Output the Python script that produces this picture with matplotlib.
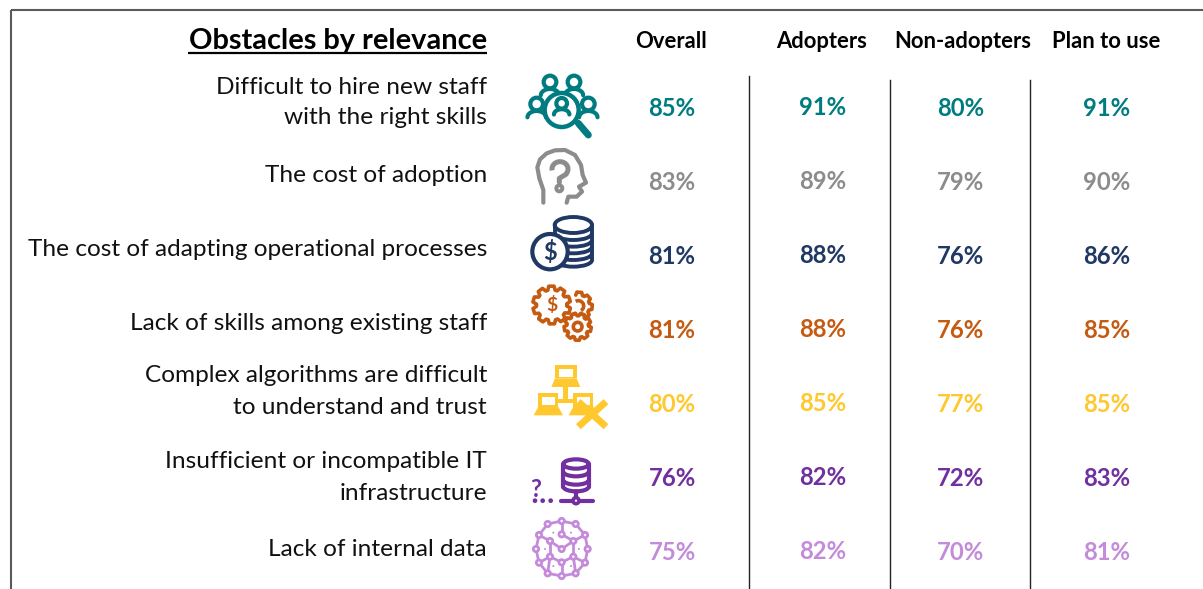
import numpy as np
import matplotlib
matplotlib.use("Agg")
import matplotlib.pyplot as plt
from matplotlib.patches import Circle, Ellipse, Polygon, Rectangle, Arc
from matplotlib.transforms import Affine2D

plt.rcParams['font.family'] = ['Lato', 'DejaVu Sans']

# data
title = "Obstacles by relevance"
columns = ["Overall", "Adopters", "Non-adopters", "Plan to use"]
labels = [
    ["Difficult to hire new staff", "with the right skills"],
    ["The cost of adoption"],
    ["The cost of adapting operational processes"],
    ["Lack of skills among existing staff"],
    ["Complex algorithms are difficult", "to understand and trust"],
    ["Insufficient or incompatible IT", "infrastructure"],
    ["Lack of internal data"],
]
overall = [85, 83, 81, 81, 80, 76, 75]
adopters = [91, 89, 88, 88, 85, 82, 82]
non_adopters = [80, 79, 76, 76, 77, 72, 70]
plan_to_use = [91, 90, 86, 85, 85, 83, 81]

colors = ["#007C80", "#8C8C8C", "#1F3864", "#C55A11", "#FFC82E", "#7030A0", "#C58BDB"]

# layout (pixels of the picture)
col_x = [672, 823, 961, 1107]
head_x = [671, 822, 963, 1106]
head_y = [41, 42, 41, 41]
row_y = [108.5, 182.5, 256.5, 330.5, 404.5, 478.5, 552.5]
col_dy = [0, -0.7, 0, 0]
label_y = [[87, 118], [175], [250], [323], [376, 407], [462, 493], [549]]

fig = plt.figure(figsize=(12.03, 5.89), dpi=100)
ax = fig.add_axes([0, 0, 1, 1])
ax.set_xlim(0, 1203)
ax.set_ylim(589, 0)
ax.axis("off")

# frame and separators
ax.plot([11, 11], [589, 10], color="#5A5A5A", lw=1.5, solid_capstyle="butt")
ax.plot([10.5, 1203], [10, 10], color="#5A5A5A", lw=1.5, solid_capstyle="butt")
ax.plot([749, 749], [76, 589], color="#222222", lw=1.0)
ax.plot([890, 890], [80, 589], color="#222222", lw=1.0)
ax.plot([1030, 1030], [80, 589], color="#222222", lw=1.0)

# titles
ax.text(487, 41.5, title, ha="right", va="center", fontsize=20.9, fontweight="bold", color="black")
ax.plot([188, 487], [53, 53], color="black", lw=1.6, solid_capstyle="butt")
for x, y, c in zip(head_x, head_y, columns):
    ax.text(x, y, c, ha="center", va="center", fontsize=15.8, fontweight="bold", color="black")

# row labels
for lines, ys in zip(labels, label_y):
    for line, y in zip(lines, ys):
        ax.text(487, y, line, ha="right", va="center", fontsize=17.6, color="#111111")

# values
for j, vals in enumerate([overall, adopters, non_adopters, plan_to_use]):
    for i, v in enumerate(vals):
        ax.text(col_x[j], row_y[i] + col_dy[j], f"{v}%", ha="center", va="center",
                fontsize=17.2, fontweight="bold", color=colors[i])


# icons are drawn in coordinates of a 3x crop, so everything gets scaled down
def zoomed(oy):
    return Affine2D().scale(1 / 3).translate(510, oy) + ax.transData


def ring(tr, cx, cy, r, col, lw=2.2, fill="white", z=3):
    ax.add_patch(Circle((cx, cy), r, fc=fill, ec=col, lw=lw, transform=tr, zorder=z))


def stroke(tr, xs, ys, col, lw=2.2, z=3, cap="round"):
    ax.plot(xs, ys, color=col, lw=lw, transform=tr, zorder=z, solid_capstyle=cap, solid_joinstyle="round")


def person(tr, cx, cy, r, col, z=3):
    ring(tr, cx, cy, r, col, 3.0, "white", z)
    t = np.linspace(np.pi, 2 * np.pi, 20)
    xs = cx + 1.45 * r * np.cos(t)
    ys = cy + 2.1 * r + 1.0 * r * np.sin(t)
    stroke(tr, xs, ys, col, 3.0, z)


def gear(tr, cx, cy, r, teeth, col, lw=2.0, a0=0.0, a1=2 * np.pi):
    pts = []
    step = 2 * np.pi / teeth
    for k in range(teeth):
        a = a0 + k * step
        if a > a1:
            break
        for da, rr in [(-0.30, 0.80), (-0.17, 1.0), (0.17, 1.0), (0.30, 0.80)]:
            pts.append((cx + r * rr * np.cos(a + da * step * 1.3), cy + r * rr * np.sin(a + da * step * 1.3)))
    xs, ys = zip(*pts)
    if a1 >= 2 * np.pi:
        xs = list(xs) + [xs[0]]
        ys = list(ys) + [ys[0]]
    stroke(tr, xs, ys, col, lw)


# people + magnifier
tr = zoomed(60)
c = colors[0]
for cx, cy, r in [(120, 66, 19), (192, 66, 19), (80, 132, 19), (235, 132, 19)]:
    person(tr, cx, cy, r, c)
ring(tr, 155, 150, 51, c, 3.2, "white", 4)
person(tr, 155, 130, 16, c, 5)
stroke(tr, [205, 235], [190, 225], c, 5.0, 4)

# head with question mark
tr = zoomed(60)
c = colors[1]
stroke(tr, [100, 100, 88, 82, 90, 110, 135, 165, 195, 213, 218, 228, 207, 216, 200, 175, 170],
       [428, 390, 355, 322, 298, 280, 271, 270, 285, 315, 345, 368, 380, 395, 410, 410, 428], c, 3.0)
ax.add_patch(Arc((150, 327), 48, 44, theta1=170, theta2=400, ec=c, lw=3.6, transform=tr, zorder=3))
stroke(tr, [168, 148, 148], [343, 355, 367], c, 3.6)
ring(tr, 148, 385, 9, c, 2.8)

# coins
tr = zoomed(60)
c = colors[2]
for yy in [600, 580, 560, 540, 520]:
    ax.add_patch(Arc((190, yy), 112, 40, theta1=0, theta2=180, ec=c, lw=2.8, transform=tr, zorder=3))
ax.add_patch(Ellipse((190, 495), 112, 48, fc="white", ec=c, lw=2.8, transform=tr, zorder=3))
stroke(tr, [246, 246], [495, 600], c, 2.8)
stroke(tr, [134, 134], [495, 530], c, 2.8)
ring(tr, 120, 575, 53, c, 3.0, "white", 4)
ax.text(120, 577, "$", transform=tr, ha="center", va="center", fontsize=17, fontweight="bold", color=c, zorder=5)

# gears
tr = zoomed(60)
c = colors[3]
gear(tr, 125, 735, 57, 10, c, 2.6, 0.3)
ax.text(125, 735, "$", transform=tr, ha="center", va="center", fontsize=14, fontweight="bold", color=c)
gear(tr, 205, 738, 42, 8, c, 2.6, -1.5, 1.9)
ax.add_patch(Arc((205, 738), 32, 32, theta1=-120, theta2=60, ec=c, lw=2.6, transform=tr, zorder=3))
ax.add_patch(Circle((203, 800), 34, fc="white", ec="none", transform=tr, zorder=3))
gear(tr, 203, 800, 41, 9, c, 2.6, 0.2)
ring(tr, 203, 800, 13, c, 2.6, "white", 4)

# laptops + cross
tr = zoomed(350)
c = colors[4]


def laptop(x0, x1, y0, y1, spread):
    ax.add_patch(Rectangle((x0, y0), x1 - x0, y1 - y0, fc=c, ec="none", transform=tr, zorder=3))
    ax.add_patch(Rectangle((x0 + 11, y0 + 11), x1 - x0 - 22, y1 - y0 - 16, fc="white", ec="none", transform=tr, zorder=3))
    ax.add_patch(Polygon([(x0, y1), (x1, y1), (x1 + spread, y1 + 26), (x0 - spread, y1 + 26)],
                         fc=c, ec="none", transform=tr, zorder=3))


laptop(135, 200, 45, 85, 11)
laptop(85, 145, 130, 170, 14)
laptop(190, 250, 130, 170, 14)
ax.add_patch(Rectangle((160, 110), 14, 42, fc=c, ec="none", transform=tr, zorder=3))
ax.add_patch(Rectangle((145, 146), 45, 12, fc=c, ec="none", transform=tr, zorder=3))
stroke(tr, [205, 288], [230, 155], c, 5.0, 4, "butt")
stroke(tr, [205, 288], [155, 230], c, 5.0, 4, "butt")

# database
tr = zoomed(350)
c = colors[5]
for yy in [365, 390, 410]:
    ax.add_patch(Arc((198, yy), 76, 28, theta1=0, theta2=180, ec=c, lw=3.0, transform=tr, zorder=3))
ax.add_patch(Ellipse((198, 342), 76, 28, fc="white", ec=c, lw=3.0, transform=tr, zorder=3))
stroke(tr, [160, 160], [342, 410], c, 3.0)
stroke(tr, [236, 236], [342, 410], c, 3.0)
stroke(tr, [198, 198], [424, 445], c, 3.0)
stroke(tr, [152, 250], [452, 452], c, 3.0)
ring(tr, 198, 452, 9, c, 2.6, "white", 4)
for xx in [75, 98, 122]:
    ax.add_patch(Circle((xx, 452), 7, fc=c, ec="none", transform=tr, zorder=3))
ax.text(78, 418, "?", transform=tr, ha="center", va="center", fontsize=17, fontweight="bold", color=c)

# network sphere
tr = zoomed(350)
c = colors[6]
outer = [(113, 522), (155, 513), (197, 522), (225, 555), (233, 597), (225, 638),
         (197, 670), (155, 678), (113, 670), (87, 638), (78, 597), (87, 555)]
inner = [(155, 553), (120, 573), (190, 573), (155, 597), (120, 620), (190, 620), (155, 637)]
nodes = outer + inner
edges = [(k, (k + 1) % 12) for k in range(12)]
edges += [(1, 12), (12, 14), (13, 15), (14, 15), (13, 16), (14, 17), (16, 18), (17, 18),
          (16, 9), (17, 5), (18, 7), (16, 8), (17, 6), (11, 13), (3, 14)]
for a, b in edges:
    stroke(tr, [nodes[a][0], nodes[b][0]], [nodes[a][1], nodes[b][1]], c, 2.0)
for n in nodes:
    ring(tr, n[0], n[1], 8, c, 2.0, "white", 4)
for d in [(130, 548), (183, 548), (105, 597), (207, 597), (130, 648), (183, 648)]:
    ax.add_patch(Circle(d, 3, fc=c, ec="none", transform=tr, zorder=3))

fig.savefig("out.png", dpi=100)
